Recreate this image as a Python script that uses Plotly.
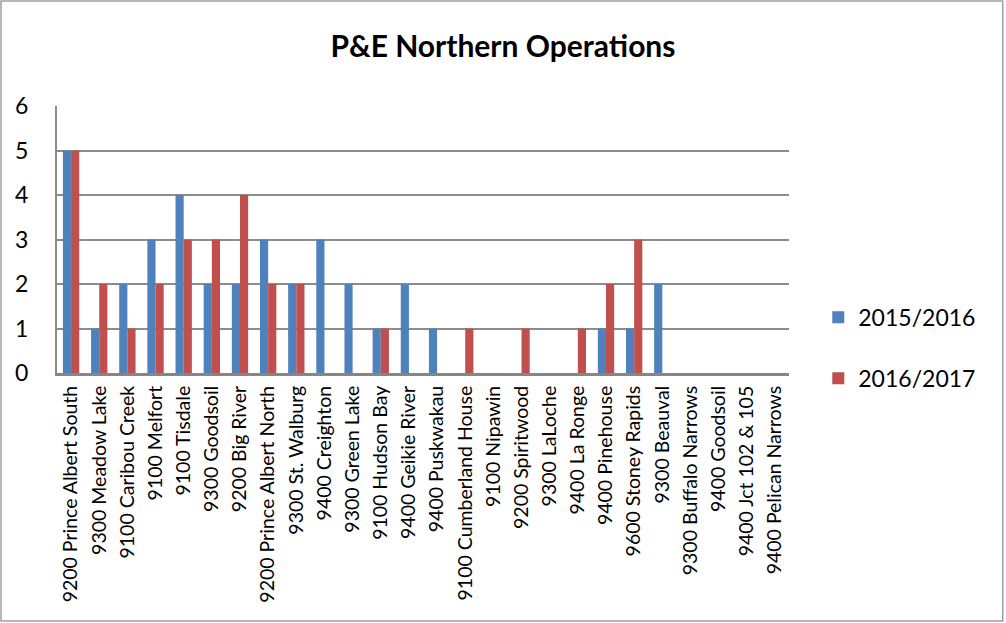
import plotly.graph_objects as go

# categories and counts
stations = [
    "9200 Prince Albert South", "9300 Meadow Lake", "9100 Caribou Creek",
    "9100 Melfort", "9100 Tisdale", "9300 Goodsoil", "9200 Big River",
    "9200 Prince Albert North", "9300 St. Walburg", "9400 Creighton",
    "9300 Green Lake", "9100 Hudson Bay", "9400 Geikie River",
    "9400 Puskwakau", "9100 Cumberland House", "9100 Nipawin",
    "9200 Spiritwood", "9300 LaLoche", "9400 La Ronge", "9400 Pinehouse",
    "9600 Stoney Rapids", "9300 Beauval", "9300 Buffalo Narrows",
    "9400 Goodsoil", "9400 Jct 102 & 105", "9400 Pelican Narrows",
]
y2015 = [5, 1, 2, 3, 4, 2, 2, 3, 2, 3, 2, 1, 2, 1, 0, 0, 0, 0, 0, 1, 1, 2, 0, 0, 0, 0]
y2016 = [5, 2, 1, 2, 3, 3, 4, 2, 2, 0, 0, 1, 0, 0, 1, 0, 1, 0, 1, 2, 3, 0, 0, 0, 0, 0]
y_ticks = [0, 1, 2, 3, 4, 5, 6]

font = "Lato, 'Open Sans', sans-serif"

fig = go.Figure()
fig.add_trace(go.Bar(x=stations, y=y2015, name="2015/2016",
                     marker=dict(color="#4F81BD", line=dict(width=0)),
                     legendgroup="a"))
fig.add_trace(go.Bar(x=stations, y=y2016, name="2016/2017",
                     marker=dict(color="#C0504D", line=dict(width=0)),
                     legendgroup="b"))

fig.update_layout(
    width=1006, height=623,
    margin=dict(l=57, r=217, t=106, b=250),
    paper_bgcolor="white", plot_bgcolor="white",
    barmode="group", bargap=0.42, bargroupgap=0,
    title=dict(text="<b>P&E Northern Operations</b>", x=0.5, xanchor="center",
               y=0.925, yanchor="middle",
               font=dict(family=font, size=30, color="black")),
    font=dict(family=font, color="black"),
    xaxis=dict(tickangle=-90, tickfont=dict(size=19.5), showgrid=False,
               showline=True, linecolor="#868686", linewidth=3,
               ticks="", ticklabelstandoff=2),
    yaxis=dict(range=[0, 6], tickvals=y_ticks, tickfont=dict(size=23),
               showgrid=True, gridcolor="#8c8c8c", gridwidth=2,
               showline=True, linecolor="#8c8c8c", linewidth=2,
               zeroline=False, ticks="", ticklabelstandoff=22),
    legend=dict(x=1.04, y=0.094, xanchor="left", yanchor="middle",
                font=dict(size=23), tracegroupgap=28, bgcolor="rgba(0,0,0,0)"),
    shapes=[dict(type="rect", xref="paper", yref="paper",
                 x0=-0.0765, x1=1.292, y0=-0.929, y1=1.393,
                 line=dict(color="#a0a0a0", width=1.5))],
)

fig.write_html("out.html", config={"displayModeBar": False},
               post_script="document.body.style.margin='0';")
